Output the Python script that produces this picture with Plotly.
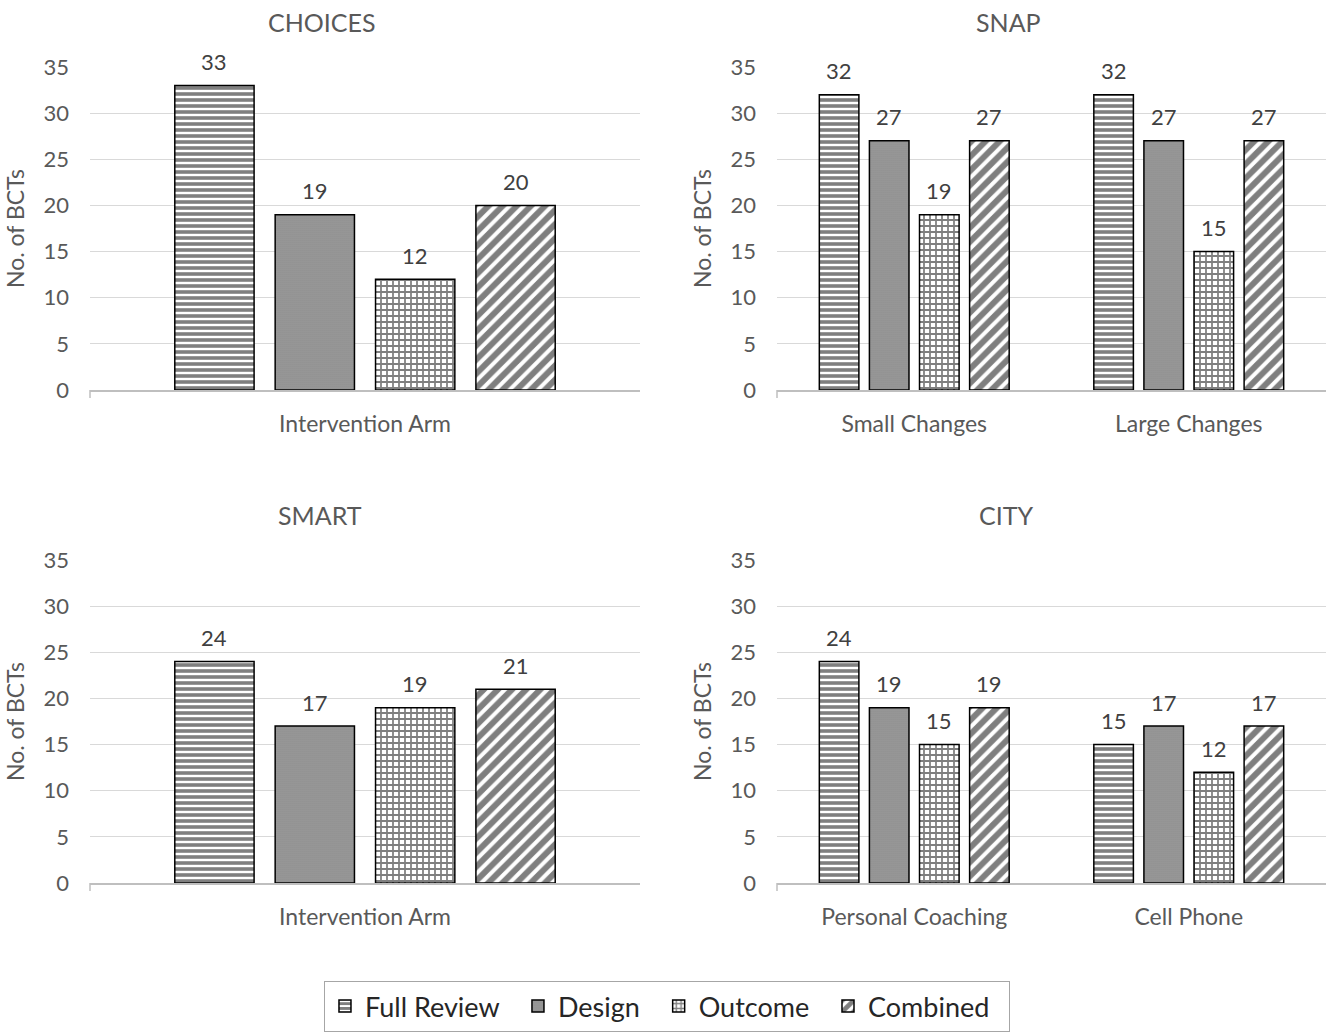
import plotly.graph_objects as go

# ---- data ----
series_names = ["Full Review", "Design", "Outcome", "Combined"]

choices_cats = ["Intervention Arm"]
choices_vals = {"Full Review": [33], "Design": [19], "Outcome": [12], "Combined": [20]}

snap_cats = ["Small Changes", "Large Changes"]
snap_vals = {"Full Review": [32, 32], "Design": [27, 27], "Outcome": [19, 15], "Combined": [27, 27]}

smart_cats = ["Intervention Arm"]
smart_vals = {"Full Review": [24], "Design": [17], "Outcome": [19], "Combined": [21]}

city_cats = ["Personal Coaching", "Cell Phone"]
city_vals = {"Full Review": [24, 15], "Design": [19, 17], "Outcome": [15, 12], "Combined": [19, 17]}

panel_titles = ["CHOICES", "SNAP", "SMART", "CITY"]
y_ticks = [0, 5, 10, 15, 20, 25, 30, 35]

# ---- styling ----
W, H = 1326, 1036
FONT = "Lato"
TXT = "#595959"
BARGAP, GROUPGAP = 0.27, 0.21

patterns = {
    "Full Review": dict(shape="-", fgcolor="black", bgcolor="white", size=6, solidity=0.6),
    "Design": dict(shape=".", fgcolor="#6a6a6a", bgcolor="#9a9a9a", size=2, solidity=0.3),
    "Outcome": dict(shape="+", fgcolor="black", bgcolor="white", size=6, solidity=0.5),
    "Combined": dict(shape="/", fgcolor="black", bgcolor="white", size=10, solidity=0.6),
}
fills = {"Full Review": "white", "Design": "#9a9a9a", "Outcome": "white", "Combined": "white"}


def px_x(x):
    return x / W


def px_y(y):
    return 1 - y / H


panels = [
    (choices_cats, choices_vals, "x", "y", (90, 640), (67, 390)),
    (snap_cats, snap_vals, "x2", "y2", (777, 1326), (67, 390)),
    (smart_cats, smart_vals, "x3", "y3", (90, 640), (560, 883)),
    (city_cats, city_vals, "x4", "y4", (777, 1326), (560, 883)),
]

fig = go.Figure()
annotations = []
shapes = []

for i, (cats, vals, xa, ya, (x0, x1), _) in enumerate(panels):
    cat_w = (x1 - x0) / len(cats)
    pitch = cat_w * (1 - BARGAP) / len(series_names)
    for j, name in enumerate(series_names):
        fig.add_trace(go.Bar(
            x=cats, y=vals[name], name=name + "\u00a0\u00a0",
            xaxis=xa, yaxis=ya,
            legendgroup=name, showlegend=(i == 0),
            marker=dict(color=fills[name], pattern=patterns[name],
                        line=dict(color="black", width=1.5)),
        ))
        # value labels above each bar
        for c, v in zip(cats, vals[name]):
            annotations.append(dict(
                x=c, y=v, xref=xa, yref=ya, text=str(v), showarrow=False,
                xshift=(j - 1.5) * pitch, yshift=24, yanchor="middle",
                font=dict(family=FONT, size=22, color="#404040"),
            ))
    # small tick at the left end of each category axis
    shapes.append(dict(type="line", xref="paper", yref=ya + " domain",
                       x0=px_x(x0), x1=px_x(x0), y0=0, y1=-0.025,
                       line=dict(color="#bfbfbf", width=1.5)))

layout = dict(
    width=W, height=H,
    margin=dict(l=0, r=0, t=0, b=0, autoexpand=False),
    paper_bgcolor="white", plot_bgcolor="white",
    barmode="group", bargap=BARGAP, bargroupgap=GROUPGAP,
    font=dict(family=FONT, color=TXT),
    showlegend=True,
    legend=dict(
        orientation="h", x=0.503, xanchor="center", y=px_y(981), yanchor="top",
        bordercolor="#a6a6a6", borderwidth=1, bgcolor="white",
        font=dict(family=FONT, size=27, color="#262626"),
        itemwidth=30, traceorder="normal",
    ),
)

title_pos = [(322, 22), (1008, 22), (320, 515), (1006, 515)]
for k, (cats, vals, xa, ya, (x0, x1), (y0, y1)) in enumerate(panels):
    suffix = "" if k == 0 else str(k + 1)
    layout["xaxis" + suffix] = dict(
        domain=[px_x(x0), px_x(x1)], anchor=ya, automargin=False,
        showline=True, linecolor="#bfbfbf", linewidth=1.5,
        ticks="", showgrid=False, ticklabelstandoff=13,
        tickfont=dict(family=FONT, size=23, color=TXT),
    )
    layout["yaxis" + suffix] = dict(
        domain=[px_y(y1), px_y(y0)], anchor=xa, automargin=False,
        range=[0, 35], tickvals=y_ticks,
        showgrid=True, gridcolor="#d9d9d9", gridwidth=1,
        zeroline=False, showline=False, ticks="", ticklabelstandoff=20,
        tickfont=dict(family=FONT, size=22, color=TXT),
        title=dict(text="No. of BCTs", font=dict(family=FONT, size=23, color=TXT), standoff=12),
    )
    tx, ty = title_pos[k]
    annotations.append(dict(
        text=panel_titles[k], x=px_x(tx), y=px_y(ty), xref="paper", yref="paper",
        xanchor="center", yanchor="middle", showarrow=False,
        font=dict(family=FONT, size=25, color=TXT),
    ))

layout["annotations"] = annotations
layout["shapes"] = shapes
fig.update_layout(**layout)

fig.write_html("out.html")
